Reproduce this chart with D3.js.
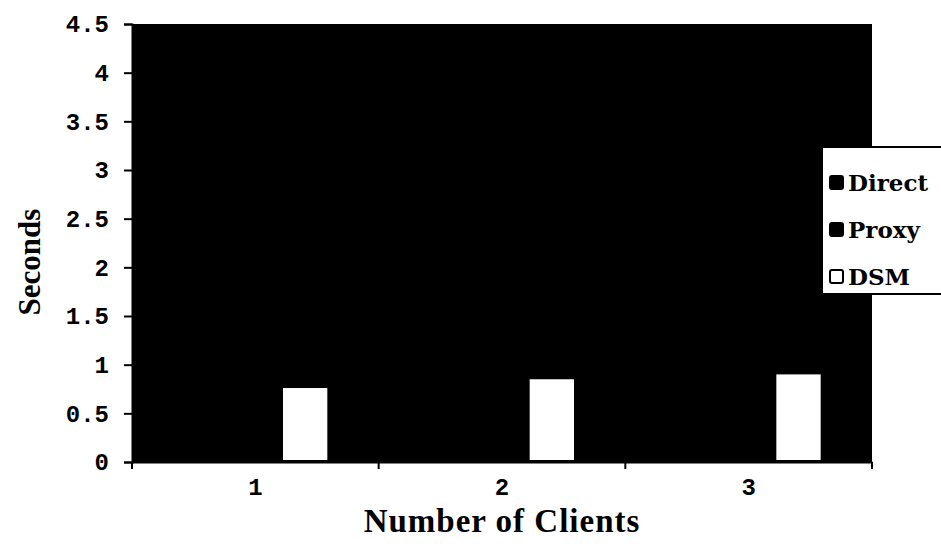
<!DOCTYPE html>
<html>
<head>
<meta charset="utf-8">
<script src="https://cdn.jsdelivr.net/npm/d3@7"></script>
<style>
  body { margin: 0; background: #fff; }
  svg { display: block; }
</style>
</head>
<body>
<div id="main"></div>
<script>
// categories and series
var clients = ["1", "2", "3"];
var seriesNames = ["Direct", "Proxy", "DSM"];
// Direct and Proxy bars are drawn black on the black plot area, so their
// heights cannot be read from the picture; they are left unknown.
var directValues = [null, null, null];
var proxyValues = [null, null, null];
var dsmValues = [0.76, 0.85, 0.90];
var yTicks = [0, 0.5, 1, 1.5, 2, 2.5, 3, 3.5, 4, 4.5];

var ctx = {
    w: 941,
    h: 548,
    left: 132,
    right: 872,
    top: 24,
    bottom: 462,
    serif: "'Liberation Serif', 'Times New Roman', serif",
    slab: "'DejaVu Serif', serif",
    mono: "'Liberation Mono', 'Courier New', monospace"
};

var seriesFill = {Direct: "#000", Proxy: "#000", DSM: "#fff"};

var createViz = function() {
    var svg = d3.select("#main").append("svg")
        .attr("width", ctx.w)
        .attr("height", ctx.h);

    var rows = clients.map(function(c, i) {
        return {client: c, Direct: directValues[i], Proxy: proxyValues[i], DSM: dsmValues[i]};
    });

    ctx.x0 = d3.scaleBand().domain(clients)
        .range([ctx.left, ctx.right])
        .paddingInner(0.4).paddingOuter(0.2);
    ctx.x1 = d3.scaleBand().domain(seriesNames)
        .range([0, ctx.x0.bandwidth()]);
    ctx.y = d3.scaleLinear().domain([0, 4.5])
        .range([ctx.bottom, ctx.top]);

    // black plot area
    svg.append("rect")
        .attr("x", ctx.left)
        .attr("y", ctx.top)
        .attr("width", ctx.right - ctx.left)
        .attr("height", ctx.bottom - ctx.top)
        .style("fill", "#000");

    // bars
    svg.append("g").selectAll("g")
        .data(rows)
        .enter().append("g")
        .attr("transform", function(d) { return "translate(" + ctx.x0(d.client) + ",0)"; })
        .selectAll("rect")
        .data(function(d) {
            return seriesNames
                .filter(function(s) { return d[s] != null; })
                .map(function(s) { return {key: s, value: d[s]}; });
        })
        .enter().append("rect")
        .attr("x", function(d) { return ctx.x1(d.key) + 3; })
        .attr("width", ctx.x1.bandwidth() - 5)
        .attr("y", function(d) { return ctx.y(d.value); })
        .attr("height", function(d) { return ctx.y(0) - ctx.y(d.value) - 2; })
        .style("fill", function(d) { return seriesFill[d.key]; });

    // y axis
    var yAxis = svg.append("g")
        .attr("transform", "translate(" + ctx.left + ",0)")
        .call(d3.axisLeft(ctx.y).tickValues(yTicks).tickSize(8).tickPadding(15)
            .tickFormat(function(d) { return String(d); }));
    yAxis.select(".domain").style("stroke", "#000").style("stroke-width", 2);
    yAxis.selectAll("line").style("stroke", "#000").style("stroke-width", 2);
    yAxis.selectAll("text")
        .style("font-family", ctx.mono)
        .style("font-size", "24px")
        .style("font-weight", "bold")
        .style("fill", "#000");

    // x axis: labels in the middle of each band, ticks on band edges
    var xAxis = svg.append("g")
        .attr("transform", "translate(0," + ctx.bottom + ")")
        .call(d3.axisBottom(ctx.x0).tickSize(0).tickPadding(16));
    xAxis.select(".domain").style("stroke", "#000").style("stroke-width", 2);
    xAxis.selectAll("text")
        .style("font-family", ctx.mono)
        .style("font-size", "24px")
        .style("font-weight", "bold")
        .style("fill", "#000");
    var edges = d3.range(clients.length + 1).map(function(i) {
        return ctx.left + i * ctx.x0.step();
    });
    xAxis.selectAll(".edge")
        .data(edges)
        .enter().append("line")
        .attr("class", "edge")
        .attr("x1", function(d) { return d; })
        .attr("x2", function(d) { return d; })
        .attr("y1", 0)
        .attr("y2", 7)
        .style("stroke", "#000")
        .style("stroke-width", 2);

    // axis titles
    svg.append("text")
        .attr("x", (ctx.left + ctx.right) / 2)
        .attr("y", 532)
        .style("text-anchor", "middle")
        .style("font-family", ctx.serif)
        .style("font-size", "33px")
        .style("font-weight", "bold")
        .style("letter-spacing", "1px")
        .text("Number of Clients");
    svg.append("text")
        .attr("transform", "translate(40,262) rotate(-90)")
        .style("text-anchor", "middle")
        .style("font-family", ctx.serif)
        .style("font-size", "31px")
        .style("font-weight", "bold")
        .text("Seconds");

    // legend
    var legend = svg.append("g").attr("transform", "translate(822,147)");
    legend.append("rect")
        .attr("x", 0)
        .attr("y", 0)
        .attr("width", 140)
        .attr("height", 147)
        .style("fill", "#fff")
        .style("stroke", "#000")
        .style("stroke-width", 2);
    var items = legend.selectAll(".item")
        .data(seriesNames)
        .enter().append("g")
        .attr("class", "item")
        .attr("transform", function(d, i) { return "translate(8," + (44 + i * 47) + ")"; });
    items.append("rect")
        .attr("x", 0)
        .attr("y", -15)
        .attr("width", 13)
        .attr("height", 13)
        .attr("rx", 2)
        .style("fill", function(d) { return seriesFill[d]; })
        .style("stroke", "#000")
        .style("stroke-width", 2);
    items.append("text")
        .attr("x", 18)
        .attr("y", 0)
        .style("font-family", ctx.slab)
        .style("font-size", "23px")
        .style("font-weight", "bold")
        .text(function(d) { return d; });
};

createViz();
</script>
</body>
</html>
